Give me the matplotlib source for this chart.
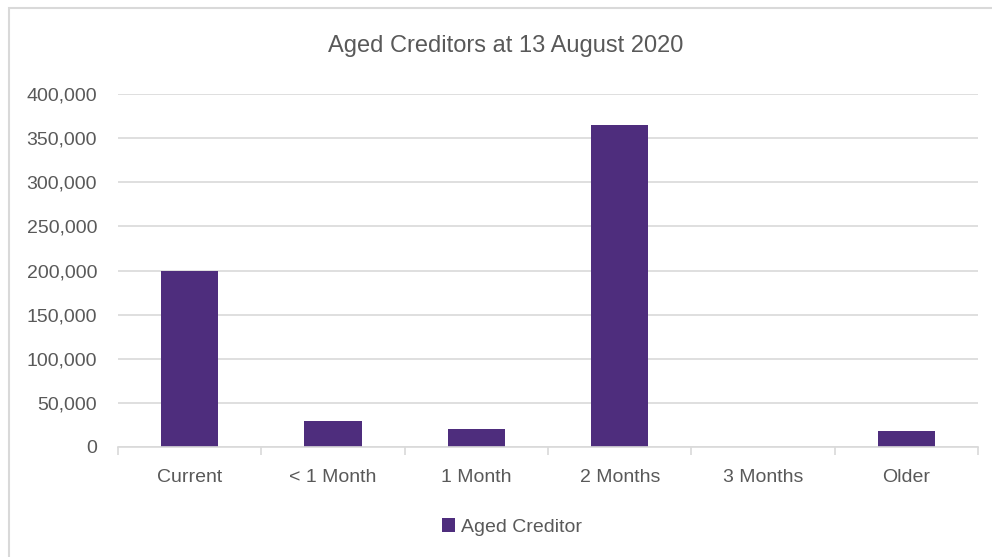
import numpy as np
import matplotlib
matplotlib.use('Agg')
import matplotlib.pyplot as plt
from matplotlib.patches import Rectangle
from matplotlib.ticker import FuncFormatter

plt.rcParams['font.family'] = ['Liberation Sans', 'DejaVu Sans']

# data
categories = ['Current', '< 1 Month', '1 Month', '2 Months', '3 Months', 'Older']
aged_creditor = [200000, 30000, 20500, 365000, 0, 18500]
yticks = [0, 50000, 100000, 150000, 200000, 250000, 300000, 350000, 400000]

bar_color = '#4E2D7D'
text_color = '#595959'
grid_color = '#D9D9D9'

fig = plt.figure(figsize=(9.92, 5.57), dpi=100)
ax = fig.add_axes([0.119, 0.1975, 0.867, 0.6337])

x = np.arange(len(categories))
ax.bar(x, aged_creditor, width=0.4, color=bar_color, label='Aged Creditor', zorder=3)

ax.set_xlim(-0.5, len(categories) - 0.5)
ax.set_ylim(0, 400000)
ax.set_yticks(yticks)
ax.yaxis.set_major_formatter(FuncFormatter(lambda v, p: '{:,.0f}'.format(v)))
ax.set_xticks(x)
ax.set_xticklabels(categories)
# tick marks sit between the categories
ax.set_xticks(np.arange(len(categories) + 1) - 0.5, minor=True)
ax.tick_params(axis='x', which='major', length=0, pad=16, labelsize=14, labelcolor=text_color)
ax.tick_params(axis='x', which='minor', length=6, width=1.2, color=grid_color)
ax.tick_params(axis='y', length=0, pad=15, labelsize=14, labelcolor=text_color)

ax.grid(axis='y', color=grid_color, linewidth=1.2, zorder=0)
for side in ['top', 'right', 'left']:
    ax.spines[side].set_visible(False)
ax.spines['bottom'].set_color(grid_color)
ax.spines['bottom'].set_linewidth(1.2)
ax.spines['bottom'].set_zorder(4)

fig.text(0.51, 0.918, 'Aged Creditors at 13 August 2020', ha='center', va='center',
         fontsize=17, color=text_color)

leg = fig.legend(loc='center', bbox_to_anchor=(0.516, 0.054), frameon=False,
                 fontsize=14, handlelength=0.7, handleheight=0.7, handletextpad=0.3)
for t in leg.get_texts():
    t.set_color(text_color)

# light border round the chart area
fig.patches.append(Rectangle((9 / 992, -0.02), 1.0, 1 - 8 / 557 + 0.02, transform=fig.transFigure,
                             fill=False, edgecolor='#D9D9D9', linewidth=1.5))

plt.savefig('out.png', dpi=100)
